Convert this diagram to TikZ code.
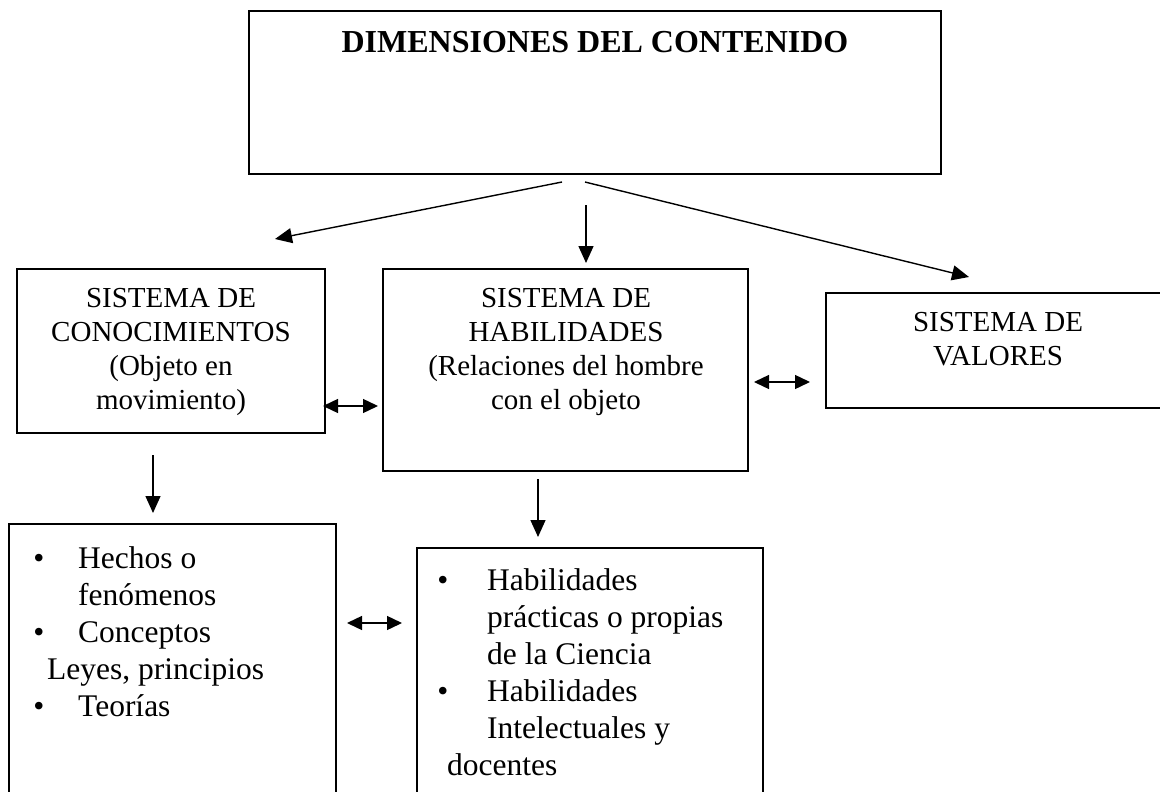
\documentclass[tikz,border=0pt]{standalone}
\usepackage{fontspec}
\setmainfont{Liberation Serif}
\usetikzlibrary{arrows.meta}
\begin{document}
\begin{tikzpicture}[x=1pt,y=-1pt,
  box/.style={draw, line width=1.5pt, inner sep=0pt, outer sep=0pt, anchor=north west},
  upline/.style={font=\fontsize{29}{34}\selectfont, anchor=base, inner sep=0pt},
  lowline/.style={font=\fontsize{31.5}{37}\selectfont, anchor=base west, inner sep=0pt},
  bul/.style={font=\fontsize{31.5}{37}\selectfont, anchor=base, inner sep=0pt},
  arr/.style={line width=1.4pt, -{Triangle[length=17pt,width=15pt]}},
  dbl/.style={line width=1.4pt, {Triangle[length=15pt,width=14pt]}-{Triangle[length=15pt,width=14pt]}}]
\useasboundingbox (0,0) rectangle (1160,792);
\clip (0,0) rectangle (1160,792);
\fill[white] (0,0) rectangle (1160,792);

% boxes
\node[box, line width=1.8pt, minimum width=692pt, minimum height=163pt] (top) at (249,11) {};
\node[box, minimum width=308pt, minimum height=164pt] (left) at (17,269) {};
\node[box, minimum width=365pt, minimum height=202pt] (mid) at (383,269) {};
\node[box, minimum width=344pt, minimum height=115pt] (right) at (826,293) {};
\node[box, minimum width=327pt, minimum height=290pt] (bl) at (9,524) {};
\node[box, minimum width=346pt, minimum height=270pt] (bm) at (417,548) {};

% title
\node[font=\fontsize{32}{38}\selectfont\bfseries, anchor=base, inner sep=0pt] (title) at (595,53) {DIMENSIONES DEL CONTENIDO};

% left box text
\node[upline] (l1) at (171,307) {SISTEMA DE};
\node[upline] (l2) at (171,341) {CONOCIMIENTOS};
\node[upline] (l3) at (171,375) {(Objeto en};
\node[upline] (l4) at (171,409) {movimiento)};

% middle box text
\node[upline] (m1) at (566,307) {SISTEMA DE};
\node[upline] (m2) at (566,341) {HABILIDADES};
\node[upline] (m3) at (566,375) {(Relaciones del hombre};
\node[upline] (m4) at (566,409) {con el objeto};

% right box text
\node[upline] (r1) at (998,331) {SISTEMA DE};
\node[upline] (r2) at (998,365) {VALORES};

% bottom left text
\node[bul] (b1) at (39,568) {•};
\node[lowline] (bl1) at (78,568) {Hechos o};
\node[lowline] (bl2) at (78,605) {fenómenos};
\node[bul] (b2) at (39,642) {•};
\node[lowline] (bl3) at (78,642) {Conceptos};
\node[lowline] (bl4) at (47,679) {Leyes, principios};
\node[bul] (b3) at (39,716) {•};
\node[lowline] (bl5) at (78,716) {Teorías};

% bottom middle text
\node[bul] (b4) at (443,590) {•};
\node[lowline] (bm1) at (487,590) {Habilidades};
\node[lowline] (bm2) at (487,627) {prácticas o propias};
\node[lowline] (bm3) at (487,664) {de la Ciencia};
\node[bul] (b5) at (443,701) {•};
\node[lowline] (bm4) at (487,701) {Habilidades};
\node[lowline] (bm5) at (487,738) {Intelectuales y};
\node[lowline] (bm6) at (447,775) {docentes};

% connector end points
\coordinate (a1s) at (562,182); \coordinate (a1e) at (275,239);
\coordinate (a2s) at (586,205); \coordinate (a2e) at (586,263);
\coordinate (a3s) at (585,182); \coordinate (a3e) at (969,277);
\coordinate (d1s) at (323,406); \coordinate (d1e) at (378,406);
\coordinate (d2s) at (754,382); \coordinate (d2e) at (810,382);
\coordinate (a4s) at (153,455); \coordinate (a4e) at (153,513);
\coordinate (a5s) at (538,479); \coordinate (a5e) at (538,537);
\coordinate (d3s) at (347,623); \coordinate (d3e) at (402,623);

\draw[arr] (a1s) -- (a1e);
\draw[arr] (a2s) -- (a2e);
\draw[arr] (a3s) -- (a3e);
\draw[arr] (a4s) -- (a4e);
\draw[arr] (a5s) -- (a5e);
\draw[dbl] (d1s) -- (d1e);
\draw[dbl] (d2s) -- (d2e);
\draw[dbl] (d3s) -- (d3e);
\end{tikzpicture}
\end{document}
